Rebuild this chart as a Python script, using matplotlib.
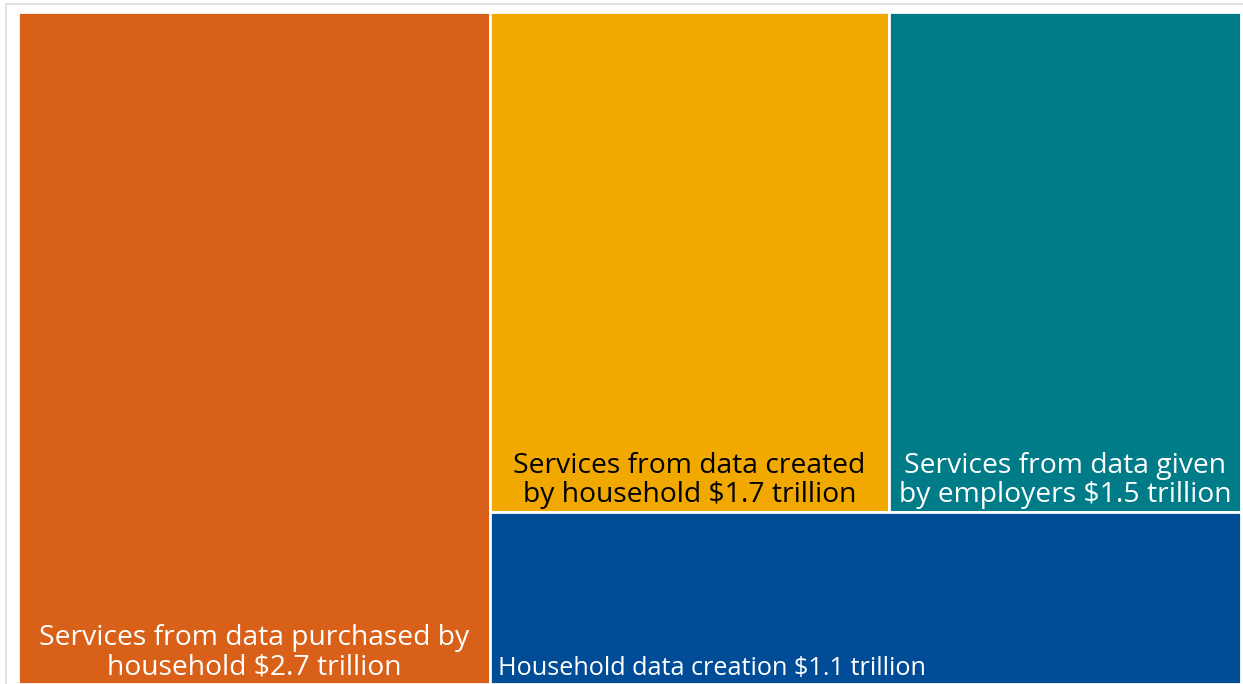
import matplotlib.pyplot as plt
from matplotlib.patches import Rectangle

plt.rcParams['font.family'] = ['Open Sans', 'DejaVu Sans']

# Values in trillions of dollars
labels = [
    'Services from data purchased by\nhousehold $2.7 trillion',
    'Services from data created\nby household $1.7 trillion',
    'Services from data given\nby employers $1.5 trillion',
    'Household data creation $1.1 trillion',
]
values = [2.7, 1.7, 1.5, 1.1]
colors = ['#D86018', '#F1A900', '#007C88', '#004C97']
text_colors = ['white', 'black', 'white', 'white']

W, H = 1.0, 1.0
total = sum(values)

# Simple slice-and-dice layout: first block takes a full-height column,
# the next two share the top row of the remainder, the last fills the bottom
x0 = values[0] / total * W
rest = total - values[0]
top_h = (values[1] + values[2]) / rest * H
x1 = x0 + values[1] / (values[1] + values[2]) * (W - x0)
rects = [
    (0, 0, x0, H),
    (x0, H - top_h, x1 - x0, top_h),
    (x1, H - top_h, W - x1, top_h),
    (x0, 0, W - x0, H - top_h),
]

fig = plt.figure(figsize=(12.43, 6.84), dpi=100)
fig.patches.append(Rectangle((6 / 1243, -0.1), 1.1, 1.1 - 4 / 684, transform=fig.transFigure,
                             fill=False, edgecolor='#dcdcdc', linewidth=1.2))
ax = fig.add_axes([18 / 1243, 0, 1223 / 1243, 672 / 684])
ax.set_xlim(0, W)
ax.set_ylim(0, H)
ax.axis('off')

for i, (x, y, w, h) in enumerate(rects):
    ax.add_patch(Rectangle((x, y), w, h, facecolor=colors[i], edgecolor='white', linewidth=2))

for i, (x, y, w, h) in enumerate(rects):
    if i == 3:
        ax.text(x + 0.007, y + 0.004, labels[i], ha='left', va='bottom',
                color=text_colors[i], fontsize=18.2)
    else:
        ax.text(x + w / 2, y + 0.004, labels[i], ha='center', va='bottom',
                color=text_colors[i], fontsize=20.3, linespacing=1.05)

fig.savefig('out.png', dpi=100)
